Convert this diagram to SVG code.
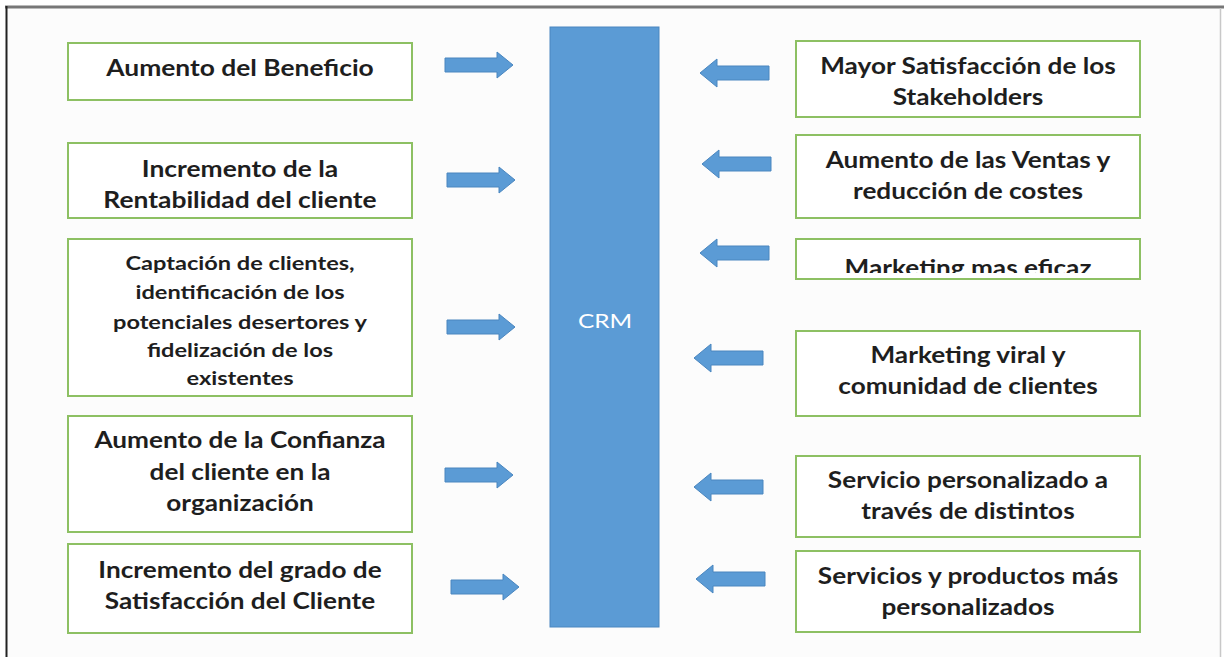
<svg xmlns="http://www.w3.org/2000/svg" width="1224" height="657" viewBox="0 0 1224 657">
<defs>
<style>
.box{fill:#ffffff;stroke:#8dc063;stroke-width:2}
.t{font-family:Lato,"Liberation Sans",sans-serif;font-weight:bold;font-size:22px;fill:#1e1e1e;text-anchor:middle}
.ts{font-size:19.5px}
.arr{fill:#5b9bd5;stroke:#4a86bf;stroke-width:1}
.crm{font-family:Lato,"Liberation Sans",sans-serif;font-size:20px;fill:#ffffff;text-anchor:middle}
</style>
<polygon id="ar" points="0,-7 52,-7 52,-13 68,0 52,13 52,7 0,7"/>
<polygon id="al" points="0,0 17,-14 17,-7 69,-7 69,7 17,7 17,14"/>
<clipPath id="clipMk"><rect x="-200" y="230" width="400" height="43"/></clipPath>
</defs>
<rect x="0" y="0" width="1224" height="657" fill="#ffffff"/>
<rect x="6" y="7" width="1215" height="650" fill="#fcfcfc"/>
<line x1="5" y1="7" x2="1224" y2="7" stroke="#777777" stroke-width="3"/>
<line x1="6.5" y1="6" x2="6.5" y2="657" stroke="#222222" stroke-width="2"/>
<line x1="1220.5" y1="8" x2="1220.5" y2="657" stroke="#c8c8c8" stroke-width="1.5"/>

<g id="crm">
<rect x="550" y="27" width="109" height="600" fill="#5b9bd5" stroke="#4a86bf" stroke-width="1"/>
<g transform="translate(605 0) scale(1.22 1)"><text class="crm" x="0" y="328">CRM</text></g>
</g>

<g id="n-aumento-beneficio">
<rect class="box" x="68" y="43" width="344" height="57"/>
<g transform="translate(240 0) scale(1.2 1)">
<text class="t" x="0" y="76">Aumento del Beneficio</text>
</g>
</g>
<g id="n-rentabilidad">
<rect class="box" x="68" y="143" width="344" height="75"/>
<g transform="translate(240 0) scale(1.2 1)">
<text class="t" x="0" y="177">Incremento de la</text>
<text class="t" x="0" y="208">Rentabilidad del cliente</text>
</g>
</g>
<g id="n-captacion">
<rect class="box" x="68" y="239" width="344" height="157"/>
<g transform="translate(240 0) scale(1.21 1)">
<text class="t ts" x="0" y="270">Captación de clientes,</text>
<text class="t ts" x="0" y="299">identificación de los</text>
<text class="t ts" x="0" y="329">potenciales desertores y</text>
<text class="t ts" x="0" y="357">fidelización de los</text>
<text class="t ts" x="0" y="385">existentes</text>
</g>
</g>
<g id="n-confianza">
<rect class="box" x="68" y="416" width="344" height="116"/>
<g transform="translate(240 0) scale(1.19 1)">
<text class="t" x="0" y="448">Aumento de la Confianza</text>
<text class="t" x="0" y="480">del cliente en la</text>
<text class="t" x="0" y="511">organización</text>
</g>
</g>
<g id="n-satisfaccion-cliente">
<rect class="box" x="68" y="544" width="344" height="89"/>
<g transform="translate(240 0) scale(1.19 1)">
<text class="t" x="0" y="578">Incremento del grado de</text>
<text class="t" x="0" y="609">Satisfacción del Cliente</text>
</g>
</g>

<g id="n-stakeholders">
<rect class="box" x="796" y="41" width="344" height="76"/>
<g transform="translate(968 0) scale(1.19 1)">
<text class="t" x="0" y="74">Mayor Satisfacción de los</text>
<text class="t" x="0" y="105">Stakeholders</text>
</g>
</g>
<g id="n-ventas">
<rect class="box" x="796" y="135" width="344" height="83"/>
<g transform="translate(968 0) scale(1.19 1)">
<text class="t" x="0" y="168">Aumento de las Ventas y</text>
<text class="t" x="0" y="199">reducción de costes</text>
</g>
</g>
<g id="n-marketing-eficaz">
<rect class="box" x="796" y="239" width="344" height="40"/>
<g transform="translate(968 0) scale(1.19 1)">
<text class="t" x="0" y="276" clip-path="url(#clipMk)">Marketing mas eficaz</text>
</g>
</g>
<g id="n-marketing-viral">
<rect class="box" x="796" y="331" width="344" height="85"/>
<g transform="translate(968 0) scale(1.19 1)">
<text class="t" x="0" y="363">Marketing viral y</text>
<text class="t" x="0" y="394">comunidad de clientes</text>
</g>
</g>
<g id="n-servicio">
<rect class="box" x="796" y="456" width="344" height="81"/>
<g transform="translate(968 0) scale(1.19 1)">
<text class="t" x="0" y="488">Servicio personalizado a</text>
<text class="t" x="0" y="519">través de distintos</text>
</g>
</g>
<g id="n-productos">
<rect class="box" x="796" y="551" width="344" height="81"/>
<g transform="translate(968 0) scale(1.19 1)">
<text class="t" x="0" y="584">Servicios y productos más</text>
<text class="t" x="0" y="615">personalizados</text>
</g>
</g>

<g id="connectors">
<use href="#ar" class="arr" x="445" y="65"/>
<use href="#ar" class="arr" x="447" y="180"/>
<use href="#ar" class="arr" x="447" y="327"/>
<use href="#ar" class="arr" x="445" y="475"/>
<use href="#ar" class="arr" x="451" y="587"/>
<use href="#al" class="arr" x="700" y="73"/>
<use href="#al" class="arr" x="702" y="164"/>
<use href="#al" class="arr" x="700" y="253"/>
<use href="#al" class="arr" x="694" y="358"/>
<use href="#al" class="arr" x="694" y="487"/>
<use href="#al" class="arr" x="696" y="579"/>
</g>
</svg>
